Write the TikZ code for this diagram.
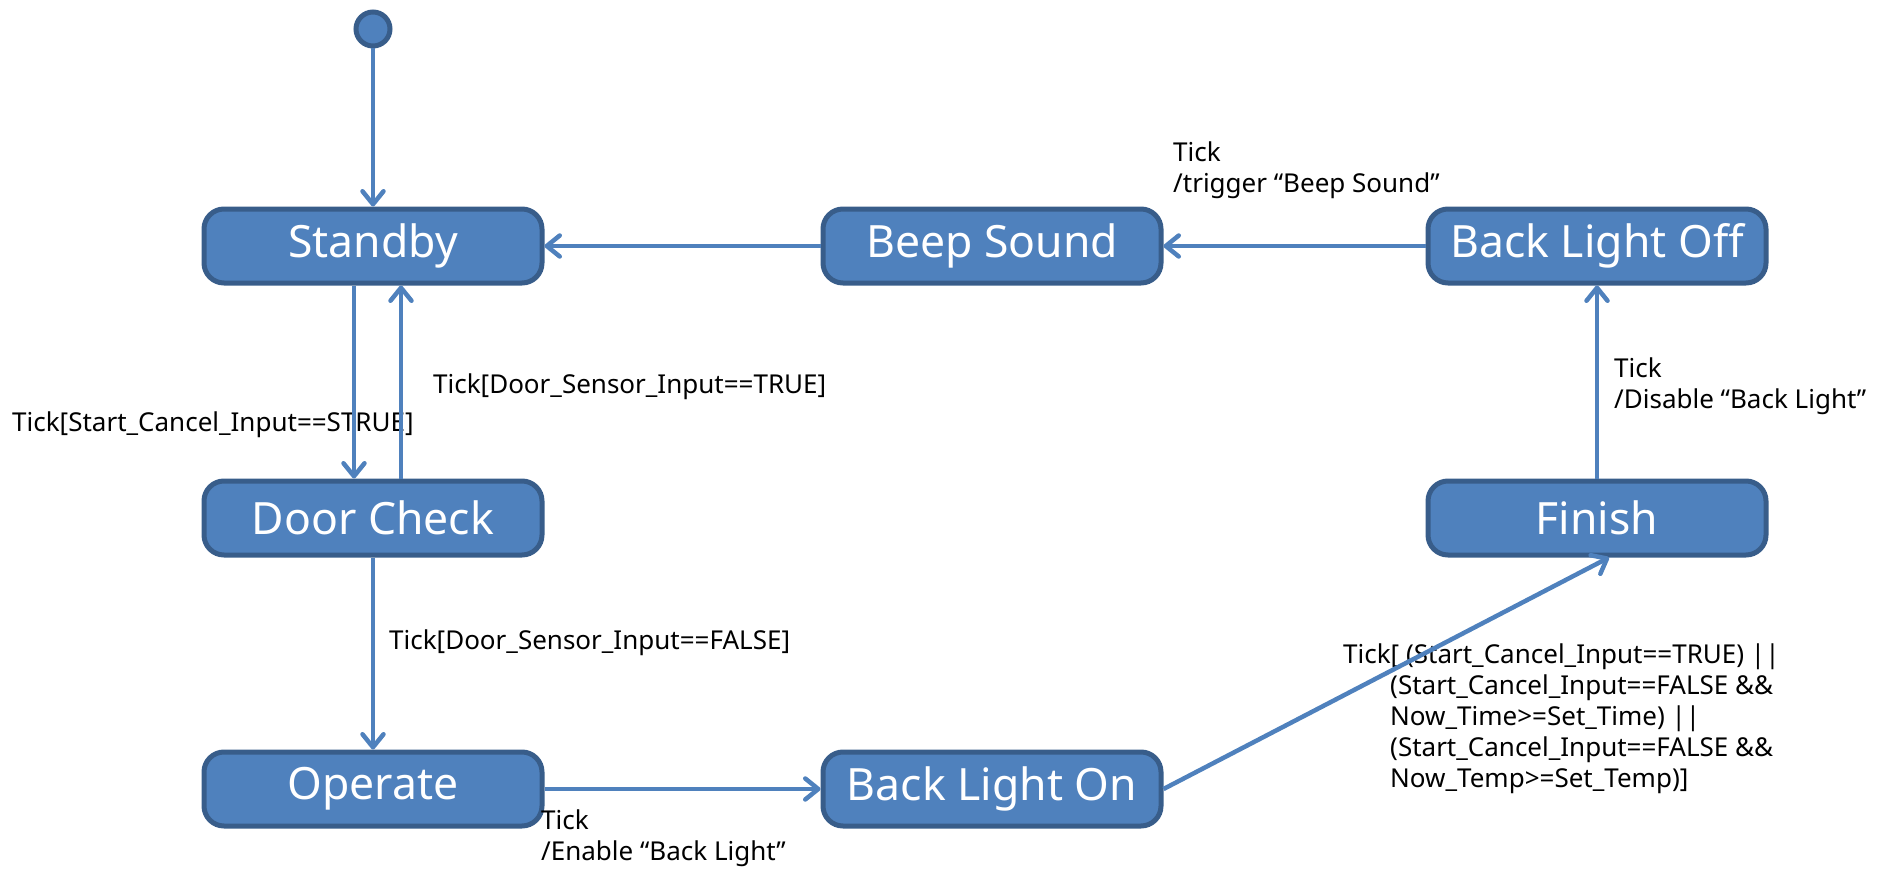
\documentclass[tikz,border=0pt]{standalone}
\usepackage{fontspec}
\setmainfont{Noto Sans}
\usetikzlibrary{positioning,arrows.meta}
\definecolor{stfill}{RGB}{79,129,189}
\definecolor{stline}{RGB}{56,93,138}

\begin{document}
\begin{tikzpicture}
  [x=1pt,y=1pt,
   state/.style={draw=stline, fill=stfill, line width=5pt, rounded corners=20pt,
     minimum width=338pt, minimum height=74pt, text=white,
     font=\fontsize{44.5}{50}\selectfont},
   trans/.style={draw=stfill, line width=4.5pt,
     -{Straight Barb[length=13pt,width=21pt,round]}},
   lbl/.style={inner sep=0pt, align=left, font=\fontsize{26}{31}\selectfont}]
  \useasboundingbox (0,0) rectangle (1877,-872);

  \node [circle, draw=stline, fill=stfill, line width=5pt, minimum size=34pt,
    inner sep=0pt] (init) at (373,-29) {};
  \node [state] (standby) at (373,-246) {Standby};
  \node [state] (door) [below=193pt of standby] {Door Check};
  \node [state] (operate) [below=192pt of door] {Operate};
  \node [state] (lighton) [right=276pt of operate] {Back Light On};
  \node [state] (beep) [right=276pt of standby] {Beep Sound};
  \node [state] (lightoff) [right=262pt of beep] {Back Light Off};
  \node [state] (finish) [below=193pt of lightoff] {Finish};

  \node [lbl, anchor=west] (t1) at (12,-425) {Tick[Start\_Cancel\_Input==STRUE]};
  \node [lbl, anchor=west] (t2) at (433,-387) {Tick[Door\_Sensor\_Input==TRUE]};
  \node [lbl, anchor=west] (t3) at (389,-643) {Tick[Door\_Sensor\_Input==FALSE]};
  \node [lbl, anchor=north west] (t4) at (541,-810) {Tick\\/Enable “Back Light”};
  \node [lbl, anchor=north west] (t5) at (1173,-142) {Tick\\/trigger “Beep Sound”};
  \node [lbl, anchor=north west] (t6) at (1614,-358) {Tick\\/Disable “Back Light”};
  \node [lbl, anchor=north west] (t7) at (1343,-644)
    {Tick[ (Start\_Cancel\_Input==TRUE) ||\\
     \hspace*{47pt}(Start\_Cancel\_Input==FALSE \&\&\\
     \hspace*{47pt}Now\_Time>=Set\_Time) ||\\
     \hspace*{47pt}(Start\_Cancel\_Input==FALSE \&\&\\
     \hspace*{47pt}Now\_Temp>=Set\_Temp)]};

  \draw [trans] (init.south) -- (standby.north);
  \draw [trans] ([xshift=-19pt]standby.south) -- ([xshift=-19pt]door.north);
  \draw [trans] ([xshift=28pt]door.north) -- ([xshift=28pt]standby.south);
  \draw [trans] (door.south) -- (operate.north);
  \draw [trans] (operate.east) -- (lighton.west);
  \draw [trans] (lighton.east) -- ([xshift=12pt]finish.south);
  \draw [trans] (finish.north) -- (lightoff.south);
  \draw [trans] (lightoff.west) -- (beep.east);
  \draw [trans] (beep.west) -- (standby.east);
\end{tikzpicture}
\end{document}
